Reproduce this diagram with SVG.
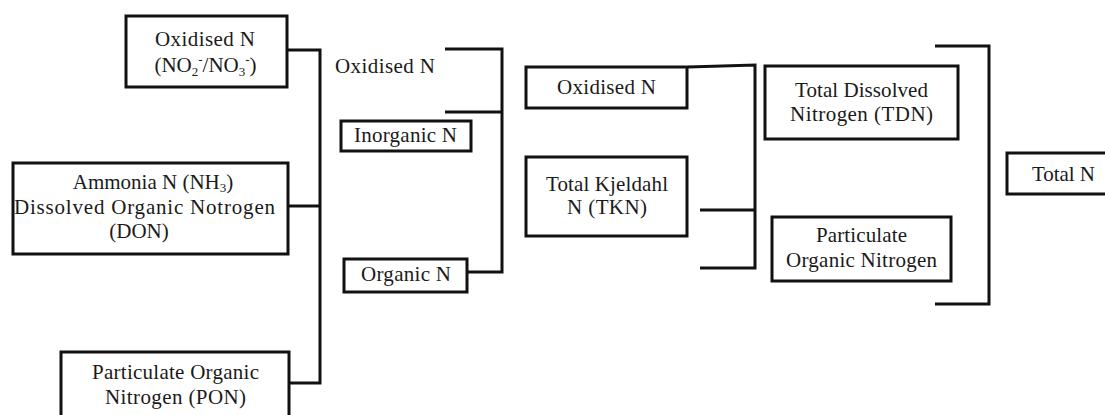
<svg xmlns="http://www.w3.org/2000/svg" width="1105" height="415" viewBox="0 0 1105 415">
<style>
.box{fill:#fff;stroke:#111;stroke-width:3}
.ln{fill:none;stroke:#111;stroke-width:3}
text{font-family:"Liberation Serif","Times New Roman",serif;font-size:21px;fill:#1a1a1a;text-anchor:middle}
.sub{font-size:13px}
</style>
<rect width="1105" height="415" fill="#fff"/>
<g id="connectors">
<polyline class="ln" points="288,50 320,50 320,383 290,383"/>
<line class="ln" x1="288" y1="206" x2="320" y2="206"/>
<polyline class="ln" points="445,49 502,49 502,272 468,272"/>
<line class="ln" x1="445" y1="112" x2="502" y2="112"/>
<polyline class="ln" points="688,67 755,65 755,268 700,268"/>
<line class="ln" x1="700" y1="210" x2="755" y2="210"/>
<polyline class="ln" points="935,46 989,46 989,304 935,304"/>
</g>
<g id="n-oxidised-src">
<rect class="box" x="126" y="16" width="161" height="71"/>
<text x="205" y="46" textLength="100">Oxidised N</text>
<text x="205.5" y="72">(NO<tspan class="sub" dy="4">2</tspan><tspan class="sub" dy="-12">-</tspan><tspan dy="8">/NO</tspan><tspan class="sub" dy="4">3</tspan><tspan class="sub" dy="-12">-</tspan><tspan dy="8">)</tspan></text>
</g>
<g id="n-ammonia-don">
<rect class="box" x="13" y="163" width="275" height="91"/>
<text x="153" y="189">Ammonia N (NH<tspan class="sub" dy="3">3</tspan><tspan dy="-3">)</tspan></text>
<text x="144.5" y="214" textLength="261">Dissolved Organic Notrogen</text>
<text x="139" y="238">(DON)</text>
</g>
<g id="n-pon">
<rect class="box" x="61" y="352" width="228" height="80"/>
<text x="175.5" y="379" textLength="167">Particulate Organic</text>
<text x="175.5" y="404" textLength="141">Nitrogen (PON)</text>
</g>
<g id="n-oxidised-mid">
<text x="385" y="73" textLength="100">Oxidised N</text>
</g>
<g id="n-inorganic">
<rect class="box" x="341" y="121" width="130" height="30"/>
<text x="405.5" y="142" textLength="103">Inorganic N</text>
</g>
<g id="n-organic">
<rect class="box" x="344" y="259" width="123" height="33"/>
<text x="406" y="281" textLength="90">Organic N</text>
</g>
<g id="n-oxidised-3">
<rect class="box" x="526" y="67" width="161" height="41"/>
<text x="606.5" y="94" textLength="99">Oxidised N</text>
</g>
<g id="n-tkn">
<rect class="box" x="526" y="157" width="161" height="79"/>
<text x="607" y="191" textLength="122">Total Kjeldahl</text>
<text x="607" y="214" textLength="80">N (TKN)</text>
</g>
<g id="n-tdn">
<rect class="box" x="765" y="66" width="193" height="73"/>
<text x="861.5" y="97" textLength="133">Total Dissolved</text>
<text x="861.5" y="121" textLength="143">Nitrogen (TDN)</text>
</g>
<g id="n-pon2">
<rect class="box" x="772" y="217" width="179" height="64"/>
<text x="861.5" y="242" textLength="91">Particulate</text>
<text x="861.5" y="267" textLength="151">Organic Nitrogen</text>
</g>
<g id="n-total">
<rect class="box" x="1007" y="153" width="110" height="41"/>
<text x="1063.5" y="181" textLength="63">Total N</text>
</g>
</svg>
